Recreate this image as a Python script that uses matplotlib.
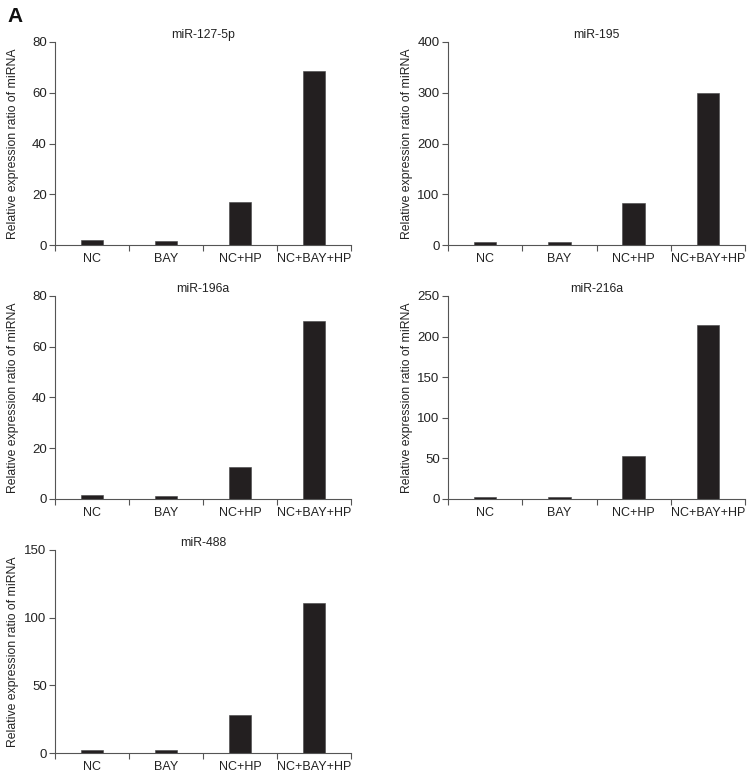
import matplotlib
matplotlib.use("Agg")
import matplotlib.pyplot as plt
import numpy as np

plt.rcParams['font.family'] = ['Liberation Sans', 'DejaVu Sans']

categories = ["NC", "BAY", "NC+HP", "NC+BAY+HP"]
titles = ["miR-127-5p", "miR-195", "miR-196a", "miR-216a", "miR-488"]
mir127 = [1.8, 1.5, 16.8, 68.5]
mir195 = [5, 5, 83, 300]
mir196a = [1.5, 1.3, 12.8, 70]
mir216a = [3, 2, 53, 214]
mir488 = [2.5, 2.5, 28, 111]
values = [mir127, mir195, mir196a, mir216a, mir488]
ymax = [80, 400, 80, 250, 150]
ystep = [20, 100, 20, 50, 50]

W, H = 754, 780
fig = plt.figure(figsize=(W / 100, H / 100), dpi=100)

# pixel boxes: (left, top, right, bottom)
boxes = [(55, 42, 351, 245), (448, 42, 745, 245),
         (55, 296, 351, 499), (448, 296, 745, 499),
         (55, 550, 351, 753)]
label_x = [13, 407, 13, 407, 13]

bar_color = "#231f20"
spine_color = "#555555"

for i, (title, vals) in enumerate(zip(titles, values)):
    l, t, r, b = boxes[i]
    ax = fig.add_axes([l / W, 1 - b / H, (r - l) / W, (b - t) / H])
    x = np.arange(len(categories))
    ax.bar(x, vals, width=0.3, color=bar_color, edgecolor="#444444", linewidth=0.4)
    ax.set_xlim(-0.5, len(categories) - 0.5)
    ax.set_ylim(0, ymax[i])
    ax.set_yticks(np.arange(0, ymax[i] + 1, ystep[i]))
    ax.set_xticks(np.arange(-0.5, len(categories), 1.0))
    ax.set_xticklabels([])
    ax.set_xticks(x, minor=True)
    ax.set_xticklabels(categories, minor=True, fontsize=9, color="#222222")
    ax.tick_params(axis='x', which='minor', length=0, pad=6)
    ax.tick_params(axis='x', which='major', length=4, width=0.8, color=spine_color, direction='out')
    ax.tick_params(axis='y', length=4, width=0.8, color=spine_color, labelsize=9.5,
                   labelcolor="#222222", pad=2)
    for s in ['top', 'right']:
        ax.spines[s].set_visible(False)
    for s in ['left', 'bottom']:
        ax.spines[s].set_color(spine_color)
        ax.spines[s].set_linewidth(0.8)
    ax.set_title(title, fontsize=8.8, color="#222222", pad=3)
    ax.set_ylabel("Relative expression ratio of miRNA", fontsize=8.8, color="#222222",
                  va='center')
    ax.yaxis.set_label_coords((label_x[i] - l) / (r - l), 0.5)

fig.text(7 / W, 1 - 7 / H, "A", fontsize=15, fontweight='bold', va='top', ha='left', color="#111111")

fig.savefig("out.png", dpi=100)
